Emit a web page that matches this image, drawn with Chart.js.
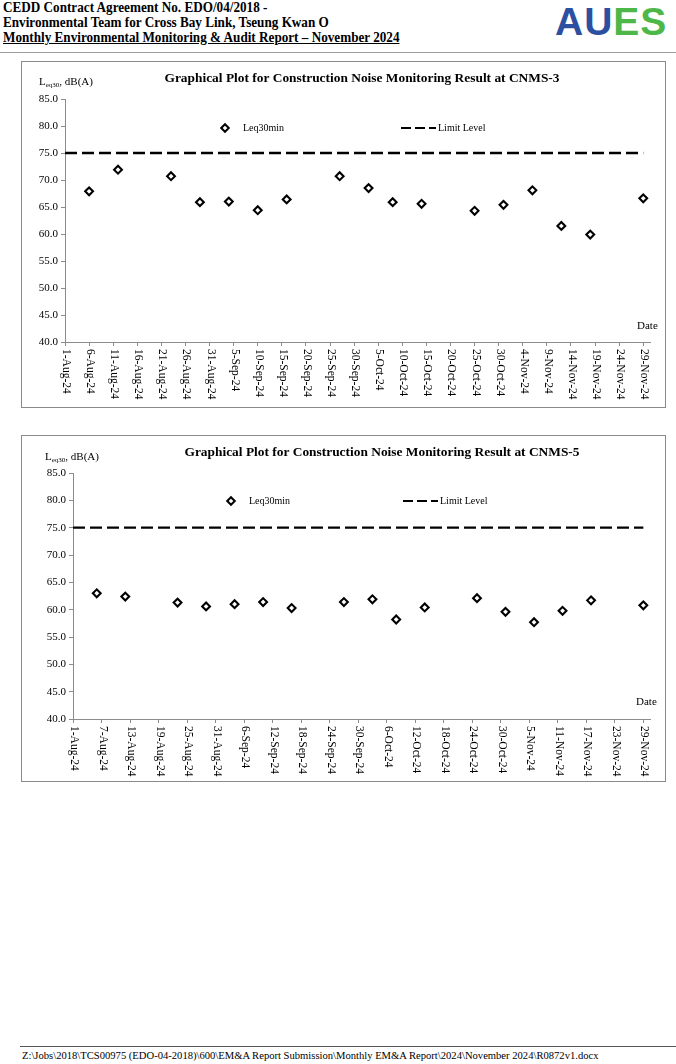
<!DOCTYPE html>
<html>
<head>
<meta charset="utf-8">
<script src="https://cdn.jsdelivr.net/npm/chart.js@4.4.1/dist/chart.umd.min.js"></script>
<style>
  body { margin: 0; width: 676px; height: 1064px; background: #fff; position: relative; overflow: hidden; font-family: "Liberation Serif", serif; }
  .hd { position: absolute; left: 3px; top: 0px; font-weight: bold; font-size: 14px; line-height: 15px; color: #000; transform: scaleX(0.94); transform-origin: 0 0; }
  .hd .u { text-decoration: underline; }
  .logo { position: absolute; left: 555px; top: 0px; font-family: "Liberation Sans", sans-serif; font-weight: bold; font-size: 39px; letter-spacing: 1px; }
  .logo .b { color: #2d4f9f; }
  .logo .g { color: #4db748; }
  .rule { position: absolute; left: 0; width: 676px; height: 1px; background: #9a9a9a; }
  .box { position: absolute; left: 21px; width: 643px; height: 345px; border: 1px solid #8a8a8a; }
  .box canvas { position: absolute; left: 0; top: 0; }
  .foot { position: absolute; left: 22px; top: 1050px; font-size: 10.6px; color: #000; white-space: nowrap; }
</style>
</head>
<body>
<div class="hd">CEDD Contract Agreement No. EDO/04/2018 -<br>Environmental Team for Cross Bay Link, Tseung Kwan O<br><span class="u">Monthly Environmental Monitoring &amp; Audit Report – November 2024</span></div>
<div class="logo"><span class="b">AU</span><span class="g">ES</span></div>
<div class="rule" style="top:52px"></div>

<div class="box" style="top:61px"><canvas id="c3" width="643" height="345"></canvas></div>
<div class="box" style="top:435px"><canvas id="c5" width="643" height="345"></canvas></div>

<div class="rule" style="top:1046px; left:20px; width:656px; background:#555"></div>
<div class="foot">Z:\Jobs\2018\TCS00975 (EDO-04-2018)\600\EM&amp;A Report Submission\Monthly EM&amp;A Report\2024\November 2024\R0872v1.docx</div>

<script>
// monitoring dates (same days at both stations)
const monDates = ['6-Aug-24', '12-Aug-24', '23-Aug-24', '29-Aug-24', '4-Sep-24', '10-Sep-24', '16-Sep-24', '27-Sep-24',
  '3-Oct-24', '8-Oct-24', '14-Oct-24', '25-Oct-24', '31-Oct-24', '6-Nov-24', '12-Nov-24', '18-Nov-24', '29-Nov-24'];
const cnms3 = [67.9, 71.9, 70.7, 65.9, 66.0, 64.4, 66.4, 70.7, 68.5, 65.9, 65.6, 64.3, 65.4, 68.1, 61.5, 59.9, 66.6];
const cnms5 = [63.0, 62.4, 61.3, 60.6, 61.0, 61.4, 60.3, 61.4, 61.9, 58.2, 60.4, 62.1, 59.6, 57.7, 59.8, 61.7, 60.8];

const limitDates = ['1-Aug-24', '29-Nov-24'];
const limitLevel = [75, 75];

// x axis tick labels
const ticks3 = ['1-Aug-24', '6-Aug-24', '11-Aug-24', '16-Aug-24', '21-Aug-24', '26-Aug-24', '31-Aug-24', '5-Sep-24',
  '10-Sep-24', '15-Sep-24', '20-Sep-24', '25-Sep-24', '30-Sep-24', '5-Oct-24', '10-Oct-24', '15-Oct-24', '20-Oct-24',
  '25-Oct-24', '30-Oct-24', '4-Nov-24', '9-Nov-24', '14-Nov-24', '19-Nov-24', '24-Nov-24', '29-Nov-24'];
const ticks5 = ['1-Aug-24', '7-Aug-24', '13-Aug-24', '19-Aug-24', '25-Aug-24', '31-Aug-24', '6-Sep-24', '12-Sep-24',
  '18-Sep-24', '24-Sep-24', '30-Sep-24', '6-Oct-24', '12-Oct-24', '18-Oct-24', '24-Oct-24', '30-Oct-24', '5-Nov-24',
  '11-Nov-24', '17-Nov-24', '23-Nov-24', '29-Nov-24'];

const yMin = 40, yMax = 85, yStep = 5;

// days counted from 1-Aug-24
const monthStart = { Aug: 0, Sep: 31, Oct: 61, Nov: 92, Dec: 122 };
const toDay = (s) => {
  const [d, m] = s.split('-');
  return monthStart[m] + Number(d) - 1;
};

const serif = '"Liberation Serif", serif';

// draws title, axis titles, legend and the rotated date labels
const decoPlugin = {
  id: 'deco',
  afterDraw(chart, args, o) {
    const ctx = chart.ctx;
    const xs = chart.scales.x;
    ctx.save();
    ctx.fillStyle = '#000';

    // title
    ctx.font = 'bold 13.4px ' + serif;
    ctx.textAlign = 'center';
    ctx.textBaseline = 'middle';
    ctx.fillText(o.title, o.titleX, o.titleY);

    // y axis title L(eq30), dB(A)
    ctx.textAlign = 'left';
    ctx.font = '11px ' + serif;
    ctx.fillText('L', o.yLabX, o.yLabY);
    let x = o.yLabX + ctx.measureText('L').width;
    ctx.font = '7px ' + serif;
    ctx.fillText('eq30', x, o.yLabY + 3);
    x += ctx.measureText('eq30').width;
    ctx.font = '11px ' + serif;
    ctx.fillText(', dB(A)', x, o.yLabY);

    // Date
    ctx.fillText('Date', o.dateX, o.dateY);

    // legend: hollow diamond + dashed line
    ctx.fillStyle = '#fff';
    ctx.strokeStyle = '#000';
    ctx.lineWidth = 2;
    Chart.helpers.drawPoint(ctx, { pointStyle: 'rectRot', radius: 3.8, borderWidth: 2 }, o.legDot[0], o.legDot[1]);
    ctx.fillStyle = '#000';
    ctx.font = '10px ' + serif;
    ctx.fillText('Leq30min', o.legDot[0] + 18, o.legDot[1]);
    ctx.beginPath();
    ctx.setLineDash([10, 4]);
    ctx.lineWidth = 2.2;
    ctx.moveTo(o.legLim[0], o.legLim[1]);
    ctx.lineTo(o.legLim[0] + 35, o.legLim[1]);
    ctx.stroke();
    ctx.setLineDash([]);
    ctx.fillText('Limit Level', o.legLim[0] + 37, o.legLim[1]);

    // rotated tick labels, reading downwards
    ctx.font = '11.5px ' + serif;
    ctx.textBaseline = 'middle';
    ctx.textAlign = 'left';
    xs.ticks.forEach((t) => {
      const px = xs.getPixelForValue(t.value);
      ctx.save();
      ctx.translate(px + 1, xs.top + 7);
      ctx.rotate(Math.PI / 2);
      ctx.fillText(t.label, 0, 0);
      ctx.restore();
    });
    ctx.restore();
  }
};

const makeChart = (id, values, tickLabels, deco, left, top, xHeight) => {
  const ctx = document.getElementById(id).getContext('2d');
  return new Chart(ctx, {
    type: 'scatter',
    data: {
      datasets: [
        {
          label: 'Leq30min',
          data: monDates.map((d, i) => ({ x: toDay(d), y: values[i] })),
          pointStyle: 'rectRot',
          pointRadius: 3.9,
          borderColor: '#000',
          backgroundColor: '#fff',
          borderWidth: 2.1,
          order: 0,
        },
        {
          label: 'Limit Level',
          type: 'line',
          data: limitDates.map((d, i) => ({ x: toDay(d), y: limitLevel[i] })),
          borderColor: '#000',
          borderWidth: 2.3,
          borderDash: [12, 5],
          pointRadius: 0,
          fill: false,
          order: 1,
        },
      ],
    },
    options: {
      responsive: false,
      animation: false,
      devicePixelRatio: 1,
      layout: { padding: { top: top, right: 15, left: 0, bottom: 0 } },
      plugins: {
        legend: { display: false },
        tooltip: { enabled: false },
        deco: deco,
      },
      scales: {
        x: {
          type: 'linear',
          min: 0,
          max: 121.4,
          afterBuildTicks: (scale) => {
            scale.ticks = tickLabels.map((l) => ({ value: toDay(l), label: l }));
          },
          afterFit: (scale) => { scale.height = xHeight; },
          ticks: { display: false },
          grid: { drawOnChartArea: false, drawTicks: true, tickLength: 4, color: '#8c8c8c' },
          border: { color: '#8c8c8c', width: 1 },
        },
        y: {
          min: yMin,
          max: yMax,
          afterFit: (scale) => { scale.width = left; },
          ticks: {
            stepSize: yStep,
            color: '#000',
            padding: 3,
            font: { family: serif, size: 11 },
            callback: (v) => v.toFixed(1),
          },
          grid: { drawOnChartArea: false, drawTicks: true, tickLength: 4, color: '#8c8c8c' },
          border: { color: '#8c8c8c', width: 1 },
        },
      },
    },
    plugins: [decoPlugin],
  });
};

// keep the date text on the tick objects for the custom drawing
Chart.register({
  id: 'tickText',
  afterUpdate(chart) {
    const labels = chart.canvas.id === 'c3' ? ticks3 : ticks5;
    chart.scales.x.ticks.forEach((t, i) => { t.label = labels[i]; });
  }
});

makeChart('c3', cnms3, ticks3, {
  title: 'Graphical Plot for Construction Noise Monitoring Result at CNMS-3',
  titleX: 340, titleY: 17,
  yLabX: 17, yLabY: 20,
  dateX: 615, dateY: 264,
  legDot: [203, 66],
  legLim: [379, 66],
}, 43, 37, 65);

makeChart('c5', cnms5, ticks5, {
  title: 'Graphical Plot for Construction Noise Monitoring Result at CNMS-5',
  titleX: 360, titleY: 17,
  yLabX: 23, yLabY: 21,
  dateX: 614, dateY: 266,
  legDot: [209, 65],
  legLim: [381, 65],
}, 51, 37, 62);
</script>
</body>
</html>
